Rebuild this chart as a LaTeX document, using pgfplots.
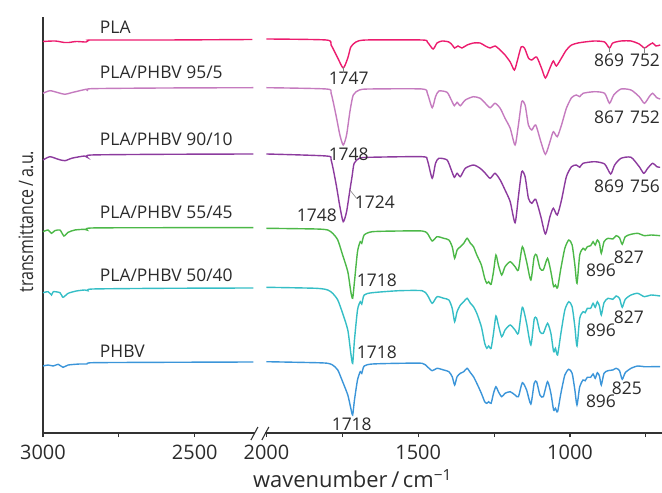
\documentclass[border=0pt]{standalone}
\usepackage{fontspec}
\setmainfont{Open Sans}
\usepackage{graphicx}
\usepackage{pgfplots}
\pgfplotsset{compat=1.18}
\usepackage{pgfplotstable}

\definecolor{cPLA}{HTML}{EC1C6E}
\definecolor{cA}{HTML}{C57BBF}
\definecolor{cB}{HTML}{8C3B9E}
\definecolor{cC}{HTML}{4CB848}
\definecolor{cD}{HTML}{35BEC6}
\definecolor{cPHBV}{HTML}{3B95D9}
\definecolor{axgray}{HTML}{333333}
\definecolor{txt}{HTML}{2B2B2B}

% w = wavenumber (cm^-1), y = transmittance (a.u., curves offset)
\pgfplotstableread{
w y
3000 391.5
2960 392
2930 390.5
2915 390.5
2890 391.5
2858 391
2850 392.5
2835 393
2600 393
2310 393.5
2200 nan
2000 394
1803 393
1787 388
1765 375
1747 365
1732 375
1722 386
1705 391
1672 393
1487 393
1470 391
1451 384
1438 390
1421 392
1399 391
1388 388
1380 385
1369 387
1356 385
1339 388
1318 390
1296 390
1279 387
1263 385
1247 387
1230 383
1214 378
1197 371
1183 363
1172 374
1161 386
1150 385
1137 375
1126 373
1110 376
1094 365
1081 355
1066 365
1055 372
1045 367
1028 375
1012 383
995 388
974 390
952 391
919 392
886 391
870 385
859 390
832 392
799 392
772 389
755 385
744 387
728 390
717 387
703 388
}\tPLA

\pgfplotstableread{
w y
3000 339.7
2977 342.3
2950 340.3
2928 338.7
2906 340.3
2879 342.3
2857 343.7
2852 342.3
2841 344.3
2600 345
2307 345.3
2200 nan
2000 345.3
1803 344
1787 339.7
1771 318
1758 298
1747 288
1736 298
1725 321.3
1714 338
1694 343
1661 344
1487 344
1470 339.7
1454 325.3
1443 336.3
1432 342
1405 340.7
1391 333
1381 327.3
1372 330.7
1361 327.3
1345 333
1318 336.3
1296 334.7
1279 329.7
1263 325.3
1247 329.7
1230 324.7
1214 314.7
1197 304.7
1181 288
1170 308
1159 331.3
1148 328
1137 308
1126 303
1113 308
1096 291.3
1081 278.7
1066 291.3
1055 301.3
1042 296.3
1028 308
1012 324.7
995 335.3
979 338
968 336.3
957 339.7
919 341.3
886 339.7
870 329.7
856 338
832 344
799 343
772 336.3
755 329.7
739 336.3
728 339.7
714 335.3
703 334
}\tA

\pgfplotstableread{
w y
3000 273
2977 276.3
2950 273.7
2928 272.3
2906 274.7
2879 276.3
2862 277
2854 275.7
2841 278
2600 278.7
2307 279
2200 nan
2000 279
1803 277
1787 273
1771 249.7
1758 226.3
1747 211.3
1736 221.3
1725 243
1718 256.3
1711 269.7
1694 274.7
1661 275.7
1487 276.3
1470 273
1454 254.7
1443 269.7
1432 274.7
1405 273
1391 263
1381 255.7
1372 259.7
1361 256.3
1345 264.7
1318 268
1296 264.7
1279 259.7
1263 254.7
1247 259.7
1230 253
1214 243
1197 231.3
1181 210.3
1170 236.3
1159 261.3
1148 256.3
1137 234.7
1126 229.7
1113 233.7
1096 216.3
1081 199
1066 216.3
1055 224.7
1042 218
1028 233
1012 256.3
995 266.3
979 268
968 265.7
957 269.7
919 271.3
886 269
866 259
853 268
832 274.7
799 275.7
772 266.3
757 259.7
744 264.7
728 269.7
714 266.3
703 265.7
}\tB

\pgfplotstableread{
w y
3000 201.3
2983 203
2972 199.7
2961 202.3
2944 203
2931 197
2917 200.7
2895 203
2863 203.7
2855 203
2841 205
2600 205.3
2307 205.3
2200 nan
2000 204.7
1836 204
1798 203
1782 199.7
1765 193
1749 178
1732 161.3
1722 141.3
1716 134.7
1710 151.3
1700 181.3
1691 191.3
1686 189.7
1678 198
1651 201.3
1563 202
1487 202
1470 199.7
1454 192
1438 196.3
1416 194.7
1399 193
1388 186.3
1380 174.7
1372 183
1361 186.3
1350 189.7
1339 194.7
1328 189.7
1318 186.3
1307 178
1292 168
1281 154.7
1274 149.7
1268 151.3
1260 148.7
1252 161.3
1244 178
1236 168
1225 158
1214 166.3
1197 171.3
1181 166.3
1170 163
1157 186.3
1143 171.3
1129 153
1118 176.3
1110 178
1099 164.7
1088 163
1074 174.7
1063 161.3
1054 146.3
1048 148
1041 145.3
1030 164.7
1017 184.7
1004 193
993 188
984 168
977 149.7
968 178
957 184.7
950 183
943 186.3
932 187.3
924 191.3
917 188
910 193
903 189.7
897 179.7
888 191.3
875 194.7
859 194
848 197.3
837 195.3
828 188.7
818 196.3
799 198.7
777 199.7
755 197.3
733 198
703 197.3
}\tC

\pgfplotstableread{
w y
3000 140.3
2983 141.3
2972 138
2966 141.3
2944 140.3
2934 135.7
2917 139.7
2890 142
2863 143
2852 142.3
2836 144
2600 144.7
2307 145
2200 nan
2000 145.7
1836 144.7
1798 143
1782 139.7
1765 133
1749 119.7
1732 103
1722 79.7
1716 69.7
1710 93
1700 123
1691 131.3
1686 129
1678 138
1651 140.3
1563 142.3
1487 142.3
1470 138
1454 129.7
1438 136.3
1416 134.7
1399 133
1388 124.7
1380 111.3
1372 121.3
1361 128
1350 131.3
1339 134.7
1328 129.7
1318 126.3
1307 119.7
1292 106.3
1281 89.7
1274 84.7
1268 87
1260 84.7
1252 99.7
1244 117
1236 108
1225 96.3
1214 103
1197 108
1181 103
1170 99.7
1157 125.7
1143 109.7
1129 88
1118 113.7
1110 114.7
1099 101.3
1088 99.7
1074 109.7
1063 99.7
1054 81.3
1048 84.7
1041 78
1030 99.7
1017 123
1004 131.3
993 126.3
984 106.3
977 87
968 114.7
957 121.3
950 120.3
943 124.7
932 124.7
924 129.7
917 125.7
910 131.3
903 127
897 118
888 130.3
875 134.7
859 133.7
848 137
837 134.7
828 125.7
818 133.7
799 138
777 139.7
755 136.3
733 138
703 137
}\tD

\pgfplotstableread{
w y
3000 67
2983 68
2966 67
2950 68.7
2934 65.7
2917 68
2879 69
2855 69
2836 70.3
2600 70.7
2307 71
2200 nan
2000 71.3
1836 70.3
1798 69.7
1782 68
1765 63
1749 51.3
1732 38
1722 24.7
1716 18
1710 33
1700 53
1691 61.3
1686 59.7
1678 67
1651 69
1563 69.7
1487 69.7
1470 66.3
1454 62.3
1438 64.7
1416 63
1399 61.3
1388 56.3
1380 48
1372 56.3
1361 59.7
1350 61.3
1339 64.7
1328 60.3
1318 56.3
1307 49.7
1292 39.7
1281 31.3
1274 29.7
1268 31.3
1260 29.7
1252 39.7
1244 46.3
1236 41.3
1225 36.3
1214 39.7
1197 41.3
1181 38
1170 36.3
1157 50.3
1143 43
1129 29
1118 49.7
1110 51.3
1099 38
1088 36.3
1074 51.3
1063 39.7
1054 23
1048 24.7
1041 21.3
1030 39.7
1017 58
1004 63.7
993 59.7
984 43
977 28
968 46.3
957 53
950 52.3
943 55.7
932 55.7
924 59
917 54.7
910 60.3
903 57
897 48
888 59.7
875 62.3
859 63
848 64.7
837 62.3
828 53.7
818 60.3
799 64.7
777 67
755 66.3
733 66.3
703 66.3
}\tPHBV

\begin{document}
\begin{tikzpicture}
\begin{axis}[
  scale only axis, width=619bp, height=416bp,
  xmin=697, xmax=2736, ymin=0, ymax=416, x dir=reverse,
  clip=false,
  axis x line=bottom, axis y line=left,
  axis line style={-, line width=1.3bp, draw=axgray},
  ytick=\empty,
  xtick={2736,2486,2236,2000,1750,1500,1250,1000,750},
  xticklabels={3000,,2500,2000,,1500,,1000,},
  tick align=outside, major tick length=4bp,
  tick style={line width=1.1bp, draw=axgray},
  xticklabel style={font=\fontsize{20}{24}\selectfont, text=txt, anchor=base, yshift=-22bp},
  xlabel={wavenumber\,/\,cm\textsuperscript{\char"2212 1}},
  ylabel={\scalebox{0.8}[1]{transmittance\,/\,a.u.}},
  xlabel style={font=\fontsize{22}{26}\selectfont, text=txt, at={(axis description cs:0.5,-0.132)}, anchor=base},
  ylabel style={font=\fontsize{20}{24}\selectfont, text=txt, at={(axis description cs:-0.0275,0.508)}, anchor=center},
  unbounded coords=jump,
  every axis plot/.append style={line width=1.4bp, smooth, tension=0.4},
]
\addplot[cPLA]  table[x expr={\thisrow{w}>2100 ? \thisrow{w}-264 : \thisrow{w}}, y=y] {\tPLA};
\addplot[cA]    table[x expr={\thisrow{w}>2100 ? \thisrow{w}-264 : \thisrow{w}}, y=y] {\tA};
\addplot[cB]    table[x expr={\thisrow{w}>2100 ? \thisrow{w}-264 : \thisrow{w}}, y=y] {\tB};
\addplot[cC]    table[x expr={\thisrow{w}>2100 ? \thisrow{w}-264 : \thisrow{w}}, y=y] {\tC};
\addplot[cD]    table[x expr={\thisrow{w}>2100 ? \thisrow{w}-264 : \thisrow{w}}, y=y] {\tD};
\addplot[cPHBV] table[x expr={\thisrow{w}>2100 ? \thisrow{w}-264 : \thisrow{w}}, y=y] {\tPHBV};

% axis break
\fill[white] (axis cs:2038,-2) rectangle (axis cs:2004,2);
\draw[axgray, line width=1.1bp] (axis cs:2051,-7) -- (axis cs:2028,6);
\draw[axgray, line width=1.1bp] (axis cs:2015,-7) -- (axis cs:1992,6);

% series names
\begin{scope}[every node/.style={font=\fontsize{17.5}{20}\selectfont, text=txt, anchor=west, inner sep=0pt}]
\node at (axis cs:2549,406) {PLA};
\node at (axis cs:2549,361) {PLA/PHBV 95/5};
\node at (axis cs:2549,294) {PLA/PHBV 90/10};
\node at (axis cs:2549,221) {PLA/PHBV 55/45};
\node at (axis cs:2549,158) {PLA/PHBV 50/40};
\node at (axis cs:2549,82) {PHBV};
\end{scope}

% peak labels
\begin{scope}[every node/.style={font=\fontsize{17.5}{20}\selectfont, text=txt, anchor=center, inner sep=0pt}]
\node at (axis cs:1729,355) {1747};
\node at (axis cs:871,373) {869};
\node at (axis cs:753,373) {752};
\node at (axis cs:1729,279) {1748};
\node at (axis cs:871,316) {867};
\node at (axis cs:753,316) {752};
\node at (axis cs:1834,218) {1748};
\node at (axis cs:1643,231) {1724};
\node at (axis cs:871,247) {869};
\node at (axis cs:753,247) {756};
\node at (axis cs:1636,153) {1718};
\node at (axis cs:898,163) {896};
\node at (axis cs:806,176) {827};
\node at (axis cs:1636,81) {1718};
\node at (axis cs:898,103) {896};
\node at (axis cs:806,116) {827};
\node at (axis cs:1719,9) {1718};
\node at (axis cs:898,32) {896};
\node at (axis cs:813,45) {825};
\end{scope}
\draw[gray, line width=0.6bp] (axis cs:1747,366) -- (axis cs:1747,360);
\draw[gray, line width=0.6bp] (axis cs:870,386) -- (axis cs:870,381);
\draw[gray, line width=0.6bp] (axis cs:755,386) -- (axis cs:755,380);
\draw[gray, line width=0.6bp] (axis cs:1725,243) -- (axis cs:1704,235);
\end{axis}
\pgfresetboundingbox
\path[use as bounding box] ([xshift=-43bp,yshift=-60bp]current axis.south west) rectangle ([yshift=17bp]current axis.north east);
\end{tikzpicture}
\end{document}
